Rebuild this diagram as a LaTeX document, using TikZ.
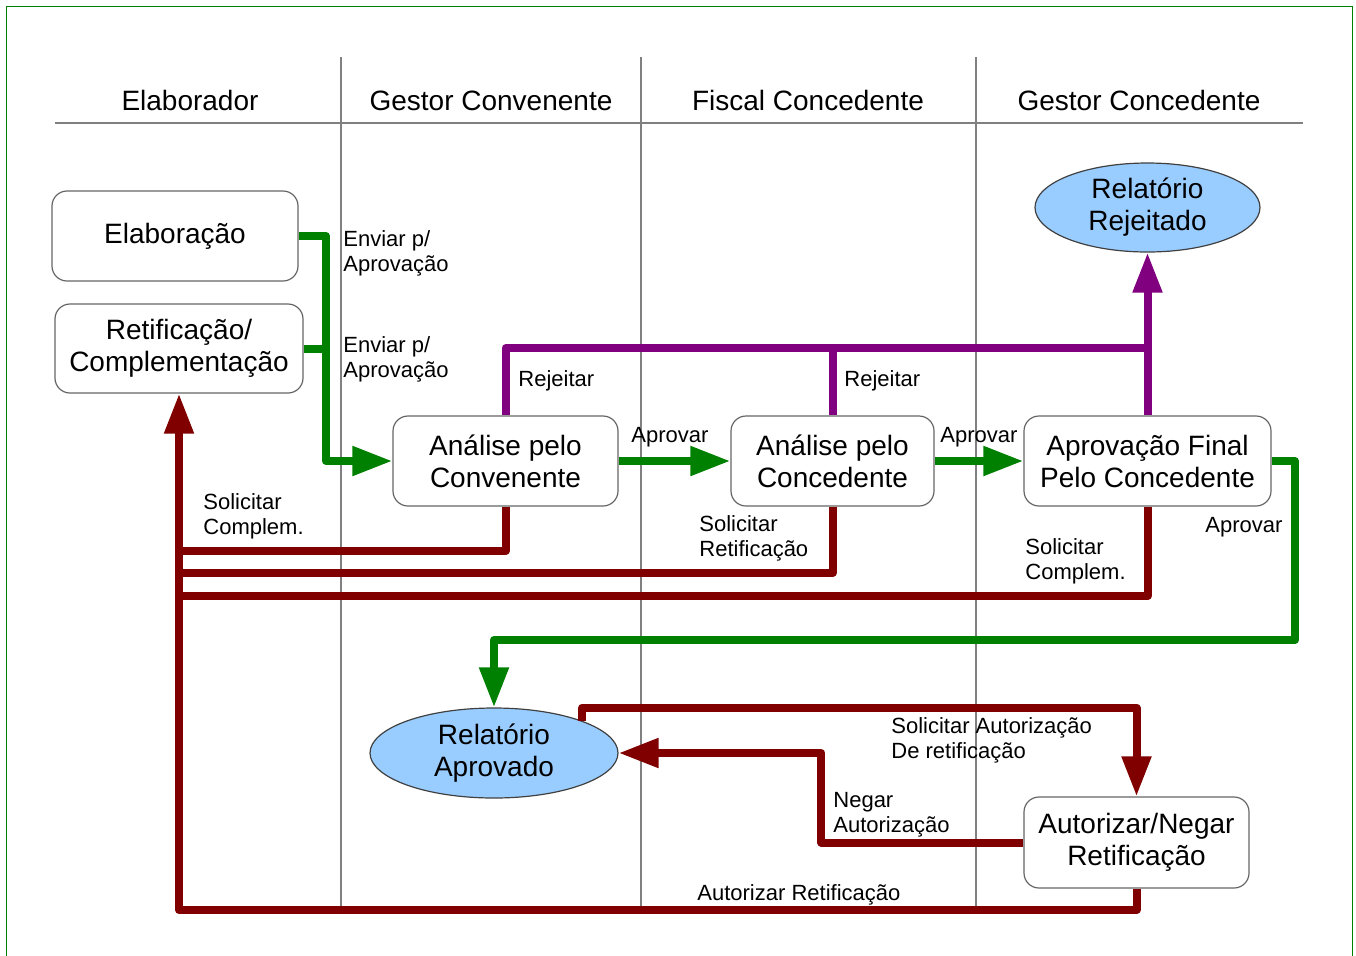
\documentclass[tikz,border=0pt]{standalone}
\usepackage{fontspec}
\setmainfont{Liberation Sans}
\usetikzlibrary{arrows.meta}

\definecolor{okgreen}{HTML}{008000}
\definecolor{backred}{HTML}{800000}
\definecolor{rejpurple}{HTML}{800080}
\definecolor{endblue}{HTML}{99CCFF}
\definecolor{lanegray}{HTML}{808080}
\tikzstyle{task}=[
  rectangle,
  rounded corners=7.5pt,
  draw=black!60,
  fill=white,
  line width=0.6pt,
  align=center,
  inner sep=0pt,
  font=\fontsize{14}{16}\selectfont,
  ]
\tikzstyle{final}=[
  ellipse,
  draw=black!75,
  fill=endblue,
  line width=0.6pt,
  align=center,
  inner sep=0pt,
  font=\fontsize{14}{16}\selectfont,
  ]
\tikzstyle{lane}=[ line width=0.9pt, lanegray ]
\tikzstyle{lanetitle}=[ anchor=base, font=\fontsize{14}{16}\selectfont ]
\tikzstyle{flowlabel}=[ anchor=base west, align=left, inner sep=0pt, font=\fontsize{11}{12.5}\selectfont ]
\tikzstyle{flow}=[ line width=4pt, line join=round ]
\tikzstyle{ok edge}=[ flow, okgreen ]
\tikzstyle{back edge}=[ flow, backred ]
\tikzstyle{rej edge}=[ flow, rejpurple ]
\tikzstyle{tip}=[ -{Triangle[length=20pt,width=14pt]} ]

\usetikzlibrary{shapes.geometric}

\begin{document}
\begin{tikzpicture}[x=0.5pt, y=-0.5pt]
    \useasboundingbox (0,0) rectangle (1356,955);
    \draw[okgreen, line width=0.6pt] (6.5,6.5) rectangle (1352.5,970);

    % lanes
    \draw[lane] (55,123) -- (1303,123);
    \draw[lane] (341,57) -- (341,908);
    \draw[lane] (641,57) -- (641,908);
    \draw[lane] (976,57) -- (976,908);
    \node[lanetitle] (t1) at (190,110) {Elaborador};
    \node[lanetitle] (t2) at (491,110) {Gestor Convenente};
    \node[lanetitle] (t3) at (808,110) {Fiscal Concedente};
    \node[lanetitle] (t4) at (1139,110) {Gestor Concedente};

    \node[task, minimum width=123pt, minimum height=45pt] (elab) at (175,236) {Elaboração};
    \node[task, minimum width=124pt, minimum height=44.5pt] (retif) at (179,348.5) {Retificação/\\Complementação};
    \node[task, minimum width=112.5pt, minimum height=45pt] (anconv) at (505.5,461) {Análise pelo\\Convenente};
    \node[task, minimum width=101.5pt, minimum height=45pt] (anconc) at (832.5,461) {Análise pelo\\Concedente};
    \node[task, minimum width=123.5pt, minimum height=45pt] (aprov) at (1147.5,461) {Aprovação Final\\Pelo Concedente};
    \node[task, minimum width=112.5pt, minimum height=45.5pt] (autor) at (1136.5,842.5) {Autorizar/Negar\\Retificação};
    \node[final, minimum width=112.5pt, minimum height=44.5pt] (rejeit) at (1147.5,207.5) {Relatório\\Rejeitado};
    \node[final, minimum width=124pt, minimum height=45pt] (aprovado) at (494,753) {Relatório\\Aprovado};

    % approval
    \coordinate (gjoin) at (326,461);
    \draw[ok edge, tip] (elab.east) -| (gjoin) -- (anconv.west);
    \draw[ok edge] (retif.east) -- (retif.east -| gjoin);
    \draw[ok edge, tip] (anconv.east) -- (anconc.west);
    \draw[ok edge, tip] (anconc.east) -- (aprov.west);
    \coordinate (gturn) at (1295,640);
    \draw[ok edge, tip] (aprov.east) -| (gturn) -| (aprovado.north);

    % rejection
    \coordinate (pjoin) at (1147.5,348);
    \draw[rej edge] (anconv.north) |- (pjoin);
    \draw[rej edge] (anconc.north) -- (anconc.north |- pjoin);
    \draw[rej edge, tip] (aprov.north) -- (rejeit.south);

    % back to the elaborador
    \coordinate (rbot) at (179,910);
    \draw[back edge] (anconv.south) |- (rbot |- 0,551);
    \draw[back edge] (anconc.south) |- (rbot |- 0,573);
    \draw[back edge] (aprov.south) |- (rbot |- 0,596);
    \draw[back edge, tip] (autor.south) |- (rbot) -- (retif.south);
    \draw[back edge, tip] (aprovado.north east) -- ++(0,-13) -| (autor.north);
    \draw[back edge, tip] (autor.west) -- ++(-202,0) |- (aprovado.east);

    % labels (base = last line)
    \node[flowlabel] (l1) at (343,271) {Enviar p/\\Aprovação};
    \node[flowlabel] (l2) at (343,377) {Enviar p/\\Aprovação};
    \node[flowlabel] (l3) at (518,386) {Rejeitar};
    \node[flowlabel] (l4) at (844,386) {Rejeitar};
    \node[flowlabel] (l5) at (631,442) {Aprovar};
    \node[flowlabel] (l6) at (940,442) {Aprovar};
    \node[flowlabel] (l7) at (203,534) {Solicitar\\Complem.};
    \node[flowlabel] (l8) at (699,556) {Solicitar\\Retificação};
    \node[flowlabel] (l9) at (1025,579) {Solicitar\\Complem.};
    \node[flowlabel] (l10) at (1205,532) {Aprovar};
    \node[flowlabel] (l11) at (891,758) {Solicitar Autorização\\De retificação};
    \node[flowlabel] (l12) at (833,832) {Negar\\Autorização};
    \node[flowlabel] (l13) at (697,900) {Autorizar Retificação};
  \end{tikzpicture}
\end{document}
